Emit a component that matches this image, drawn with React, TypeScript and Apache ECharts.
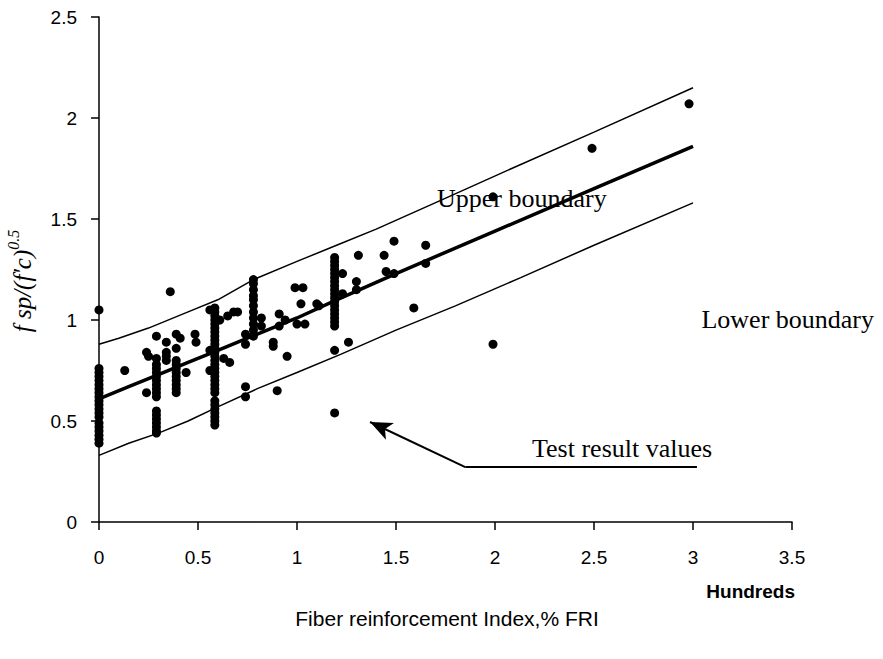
import React, { useEffect, useRef } from "react";
import * as echarts from "echarts";

// Test result values [FRI (hundreds), fsp/sqrt(f'c)]
const testResults: number[][] = [
  [0, 0.39], [0, 0.41], [0, 0.43], [0, 0.45], [0, 0.47], [0, 0.49], [0, 0.52], [0, 0.54], [0, 0.56],
  [0, 0.58], [0, 0.6], [0, 0.62], [0, 0.64], [0, 0.66], [0, 0.68], [0, 0.7], [0, 0.72], [0, 0.74], [0, 0.76], [0, 1.05],
  [0.13, 0.75],
  [0.24, 0.64], [0.24, 0.84], [0.25, 0.82],
  [0.29, 0.92], [0.29, 0.81], [0.29, 0.78], [0.29, 0.76], [0.29, 0.74], [0.29, 0.72], [0.29, 0.7], [0.29, 0.68],
  [0.29, 0.66], [0.29, 0.64], [0.29, 0.62], [0.29, 0.55], [0.29, 0.53], [0.29, 0.51], [0.29, 0.49], [0.29, 0.47], [0.29, 0.45], [0.29, 0.44],
  [0.34, 0.89], [0.34, 0.84], [0.34, 0.82], [0.34, 0.8],
  [0.36, 1.14],
  [0.39, 0.93], [0.39, 0.86], [0.39, 0.8], [0.39, 0.78], [0.39, 0.76], [0.39, 0.74], [0.39, 0.72], [0.39, 0.7],
  [0.39, 0.68], [0.39, 0.66], [0.39, 0.64],
  [0.41, 0.91], [0.44, 0.74], [0.485, 0.93], [0.49, 0.89],
  [0.56, 1.05], [0.56, 0.85], [0.56, 0.75],
  [0.585, 1.06], [0.585, 1.04], [0.585, 1.02], [0.585, 1.0], [0.585, 0.98], [0.585, 0.96], [0.585, 0.94], [0.585, 0.92],
  [0.585, 0.9], [0.585, 0.88], [0.585, 0.86], [0.585, 0.84], [0.585, 0.82], [0.585, 0.8], [0.585, 0.78], [0.585, 0.76],
  [0.585, 0.74], [0.585, 0.72], [0.585, 0.7], [0.585, 0.68], [0.585, 0.66], [0.585, 0.64], [0.585, 0.6], [0.585, 0.58],
  [0.585, 0.56], [0.585, 0.54], [0.585, 0.52], [0.585, 0.5], [0.585, 0.48],
  [0.61, 1.0], [0.65, 1.02], [0.68, 1.04], [0.7, 1.04], [0.63, 0.81], [0.66, 0.79],
  [0.74, 0.93], [0.74, 0.88], [0.74, 0.67], [0.74, 0.62],
  [0.78, 1.2], [0.78, 1.18], [0.78, 1.15], [0.78, 1.12], [0.78, 1.1], [0.78, 1.07], [0.78, 1.04], [0.78, 1.01],
  [0.78, 0.98], [0.78, 0.95], [0.78, 0.92],
  [0.82, 1.01], [0.82, 0.97], [0.88, 0.89], [0.88, 0.87], [0.9, 0.65],
  [0.91, 1.03], [0.91, 0.97], [0.94, 1.0], [0.95, 0.82],
  [0.99, 1.16], [1.03, 1.16], [1.02, 1.08], [1.1, 1.08], [1.0, 0.98], [1.04, 0.98], [1.11, 1.07],
  [1.19, 1.31], [1.19, 1.29], [1.19, 1.27], [1.19, 1.25], [1.19, 1.23], [1.19, 1.21], [1.19, 1.19], [1.19, 1.17],
  [1.19, 1.15], [1.19, 1.13], [1.19, 1.11], [1.19, 1.09], [1.19, 1.07], [1.19, 1.05], [1.19, 1.03], [1.19, 1.01],
  [1.19, 0.99], [1.19, 0.97], [1.19, 0.85], [1.19, 0.54],
  [1.23, 1.23], [1.23, 1.13], [1.26, 0.89], [1.3, 1.19], [1.3, 1.15], [1.31, 1.32],
  [1.44, 1.32], [1.45, 1.24], [1.49, 1.23], [1.49, 1.39],
  [1.59, 1.06], [1.65, 1.37], [1.65, 1.28],
  [1.99, 0.88], [1.99, 1.61], [2.49, 1.85], [2.98, 2.07],
];

const meanLine: number[][] = [
  [0, 0.61], [0.15, 0.67], [0.3, 0.73], [0.45, 0.79], [0.6, 0.85], [0.8, 0.93], [1.0, 1.01],
  [1.2, 1.1], [1.5, 1.23], [2.0, 1.44], [2.5, 1.65], [3.0, 1.86],
];
const upperLine: number[][] = [
  [0, 0.88], [0.1, 0.91], [0.25, 0.96], [0.45, 1.04], [0.6, 1.1], [0.78, 1.2], [1.0, 1.29],
  [1.2, 1.37], [1.4, 1.45], [1.72, 1.59], [2.13, 1.77], [2.5, 1.93], [3.0, 2.15],
];
const lowerLine: number[][] = [
  [0, 0.33], [0.15, 0.39], [0.3, 0.44], [0.45, 0.5], [0.6, 0.57], [0.8, 0.66], [1.0, 0.74],
  [1.22, 0.83], [1.5, 0.95], [1.8, 1.07], [2.13, 1.21], [2.5, 1.37], [3.0, 1.58],
];

const xMin = 0, xMax = 3.5, xStep = 0.5;
const yMin = 0, yMax = 2.5, yStep = 0.5;

const arrowTail = [3.02, 0.272];
const arrowBend = [1.85, 0.272];
const arrowTip = [1.369, 0.495];

const labelFont = "'Liberation Sans', Arial, sans-serif";
const serifFont = "'Liberation Serif', 'Times New Roman', serif";

export default function App() {
  const ref = useRef<HTMLDivElement>(null);
  useEffect(() => {
    if (!ref.current) return;
    const chart = echarts.init(ref.current, undefined, { renderer: "svg" });
    chart.setOption({
      animation: false,
      backgroundColor: "#ffffff",
      grid: { left: 99, top: 17, right: 91, bottom: 137, containLabel: false },
      xAxis: {
        type: "value",
        min: xMin,
        max: xMax,
        interval: xStep,
        axisLine: { show: true, onZero: false, lineStyle: { color: "#000", width: 1.5 } },
        axisTick: { show: true, inside: false, length: 8, lineStyle: { color: "#000", width: 1.5 } },
        axisLabel: { color: "#000", fontSize: 19, fontFamily: labelFont, margin: 26 },
        splitLine: { show: false },
      },
      yAxis: {
        type: "value",
        min: yMin,
        max: yMax,
        interval: yStep,
        axisLine: { show: true, onZero: false, lineStyle: { color: "#000", width: 1.5 } },
        axisTick: { show: true, inside: false, length: 8, lineStyle: { color: "#000", width: 1.5 } },
        axisLabel: { color: "#000", fontSize: 19, fontFamily: labelFont, margin: 22 },
        splitLine: { show: false },
      },
      series: [
        {
          type: "line",
          data: upperLine,
          showSymbol: false,
          symbol: "none",
          lineStyle: { color: "#000", width: 1.5 },
          z: 2,
        },
        {
          type: "line",
          data: lowerLine,
          showSymbol: false,
          symbol: "none",
          lineStyle: { color: "#000", width: 1.5 },
          z: 2,
        },
        {
          type: "line",
          data: meanLine,
          showSymbol: false,
          symbol: "none",
          lineStyle: { color: "#000", width: 3.5 },
          z: 2,
        },
        {
          type: "scatter",
          data: testResults,
          symbol: "circle",
          symbolSize: 9,
          itemStyle: { color: "#000", opacity: 1 },
          z: 3,
          markLine: {
            silent: true,
            symbol: ["none", "none"],
            lineStyle: { color: "#000", width: 2, type: "solid" },
            label: { show: false },
            data: [
              [{ coord: arrowTail }, { coord: arrowBend }],
              [{ coord: arrowBend }, { coord: arrowTip, symbol: "arrow", symbolSize: [14, 22] }],
            ],
          },
        },
      ],
      graphic: [
        {
          type: "text",
          left: 437,
          top: 185,
          style: { text: "Upper boundary", font: `26px ${serifFont}`, fill: "#000" },
        },
        {
          type: "text",
          right: 9,
          top: 306,
          style: { text: "Lower boundary", font: `26px ${serifFont}`, fill: "#000" },
        },
        {
          type: "text",
          left: 532,
          top: 435,
          style: { text: "Test result values", font: `26px ${serifFont}`, fill: "#000" },
        },
        {
          type: "text",
          right: 88,
          top: 582,
          style: { text: "Hundreds", font: `bold 19px ${labelFont}`, fill: "#000" },
        },
        {
          type: "text",
          x: 447,
          y: 618,
          style: {
            text: "Fiber reinforcement Index,% FRI",
            font: `21px ${labelFont}`,
            fill: "#000",
            align: "center",
            verticalAlign: "middle",
          },
        },
        {
          type: "text",
          x: 20,
          y: 281,
          rotation: Math.PI / 2,
          style: {
            text: "{a|f sp/(f\u2032c)}{b|0.5}",
            align: "center",
            verticalAlign: "middle",
            fill: "#000",
            rich: {
              a: { fontFamily: serifFont, fontStyle: "italic", fontSize: 25, lineHeight: 30, verticalAlign: "bottom" },
              b: { fontFamily: serifFont, fontStyle: "italic", fontSize: 16, lineHeight: 30, verticalAlign: "top" },
            },
          },
        },
      ],
    });
    return () => chart.dispose();
  }, []);
  return (
    <div
      ref={ref}
      style={{ position: "fixed", left: 0, top: 0, width: 883, height: 659, background: "#fff" }}
    />
  );
}
